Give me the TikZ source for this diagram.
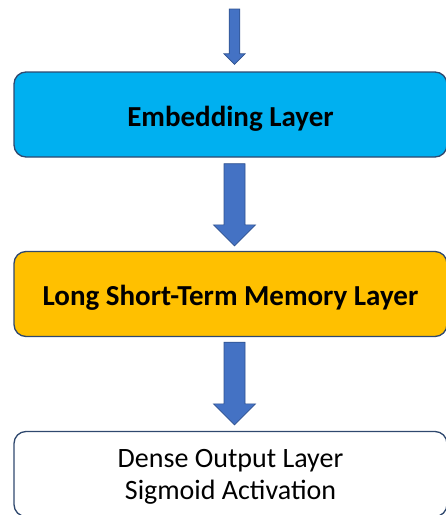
\documentclass[tikz,border=0pt]{standalone}
\usepackage{fontspec}
\setmainfont{Carlito}
\usetikzlibrary{calc}
\definecolor{EmbedClr}{RGB}{0,176,240}
\definecolor{LstmClr}{RGB}{255,192,0}
\definecolor{EdgeClr}{RGB}{47,72,110}
\definecolor{ArrowClr}{RGB}{68,114,196}
\definecolor{ArrowEdge}{RGB}{47,82,143}

\tikzset{
  layer/.style={draw=EdgeClr,line width=1.3pt,rounded corners=12pt,
    minimum width=433pt,minimum height=85pt,inner sep=0pt,align=center,
    font=\fontsize{28}{32}\selectfont,text height=57pt,text depth=7pt},
  boldlayer/.style={layer,font=\fontsize{29}{31}\selectfont\bfseries,
    text height=29pt,text depth=6pt},
  blockarrow/.style={draw=ArrowEdge,fill=ArrowClr,line width=0.7pt,
    to path={let \p1=(\tikztostart), \p2=(\tikztotarget) in
      (\x1-#1pt,\y1) -- (\x1+#1pt,\y1) -- (\x1+#1pt,\y2+2*#1pt)
      -- (\x1+2*#1pt,\y2+2*#1pt) -- (\x1,\y2) -- (\x1-2*#1pt,\y2+2*#1pt)
      -- (\x1-#1pt,\y2+2*#1pt) -- cycle}}
}

\begin{document}
\begin{tikzpicture}[x=1pt,y=1pt]
\useasboundingbox (0,-515) rectangle (446,0);

\node[boldlayer,fill=EmbedClr] (emb) at (230.5,-114.5) {Embedding Layer};
\node[boldlayer,fill=LstmClr] (lstm) at (230.5,-294) {Long Short-Term Memory Layer};
\node[layer] (out) at (230.5,-474) {Dense Output Layer\\Sigmoid Activation};

\coordinate (input) at (234.5,-9);

\draw[blockarrow=5.3] (input) to ([xshift=4pt,yshift=7pt]emb.north);
\draw[blockarrow=10.5] ([xshift=4pt,yshift=-6pt]emb.south) to ([xshift=4pt,yshift=5pt]lstm.north);
\draw[blockarrow=10.5] ([xshift=4pt,yshift=-5pt]lstm.south) to ([xshift=4pt,yshift=6pt]out.north);

\end{tikzpicture}
\end{document}
